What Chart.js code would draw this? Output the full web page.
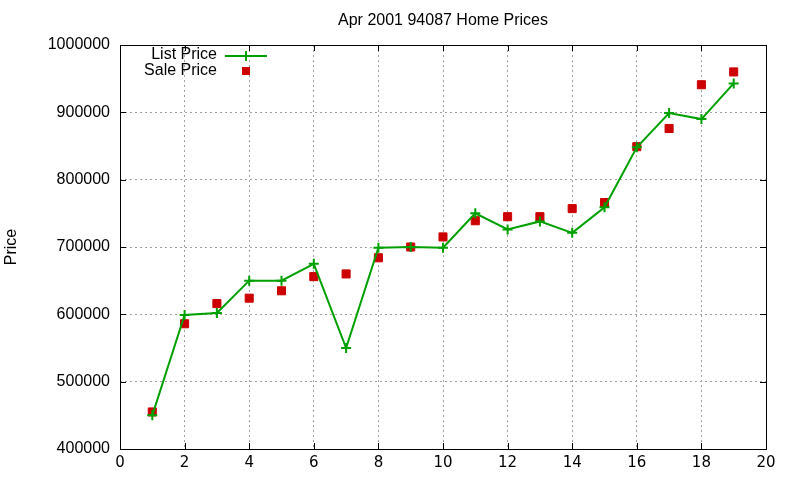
<!DOCTYPE html>
<html lang="en">
  <head>
    <meta charset="utf-8">
    <title>Apr 2001 94087 Home Prices</title>
    <style>
      html, body {
        margin: 0;
        padding: 0;
        background: #fff;
      }
      .chart-box {
        width: 800px;
        height: 480px;
      }
    </style>
    <script src="https://cdn.jsdelivr.net/npm/chart.js@4.4.4/dist/chart.umd.min.js"></script>
  </head>
  <body>
    <div class="chart-box">
      <canvas id="price-plot"></canvas>
    </div>
    <script>
      const listing_index = [1, 2, 3, 4, 5, 6, 7, 8, 9, 10, 11, 12, 13, 14, 15, 16, 17, 18, 19];
      const list_price = [450000, 599000, 602000, 650000, 650000, 675000, 550000, 699000, 700000, 699000,
                          750000, 726000, 738000, 721000, 759000, 848000, 899000, 890000, 943000];
      const sale_price = [455000, 586000, 616000, 624000, 635000, 656000, 660000, 684000, 700000, 715000,
                          739000, 745000, 745000, 757000, 766000, 849000, 876000, 941000, 960000];
      const x_ticks = [0, 2, 4, 6, 8, 10, 12, 14, 16, 18, 20];
      const y_ticks = [400000, 500000, 600000, 700000, 800000, 900000, 1000000];

      const green = 'rgb(0, 160, 0)';
      const red = 'rgb(204, 0, 0)';
      const font_name = '"Liberation Sans", Arial, sans-serif';

      // gnuplot style frame with inward ticks on all four sides
      const framePlugin = {
        id: 'frame',
        afterDraw(chart) {
          const ctx = chart.ctx;
          const area = chart.chartArea;
          const xs = chart.scales.x;
          const ys = chart.scales.y;
          ctx.save();
          ctx.strokeStyle = '#000';
          ctx.lineWidth = 1;
          ctx.beginPath();
          x_ticks.forEach(v => {
            const px = Math.round(xs.getPixelForValue(v)) + 0.5;
            ctx.moveTo(px, area.bottom);
            ctx.lineTo(px, area.bottom - 6);
            ctx.moveTo(px, area.top);
            ctx.lineTo(px, area.top + 6);
          });
          y_ticks.forEach(v => {
            const py = Math.round(ys.getPixelForValue(v)) + 0.5;
            ctx.moveTo(area.left, py);
            ctx.lineTo(area.left + 6, py);
            ctx.moveTo(area.right, py);
            ctx.lineTo(area.right - 6, py);
          });
          ctx.stroke();
          ctx.strokeRect(Math.round(area.left) + 0.5, Math.round(area.top) + 0.5,
                         Math.round(area.right - area.left), Math.round(area.bottom - area.top));
          ctx.restore();
        }
      };

      // key in the top left corner: right aligned text, then the sample
      const keyPlugin = {
        id: 'key',
        afterDraw(chart) {
          const ctx = chart.ctx;
          ctx.save();
          ctx.font = '16px ' + font_name;
          ctx.fillStyle = '#000';
          ctx.textAlign = 'right';
          ctx.textBaseline = 'middle';
          ctx.fillText('List Price', 217, 55);
          ctx.fillText('Sale Price', 217, 71);
          ctx.strokeStyle = green;
          ctx.lineWidth = 2;
          ctx.beginPath();
          ctx.moveTo(225, 56);
          ctx.lineTo(267, 56);
          ctx.moveTo(246, 51);
          ctx.lineTo(246, 61);
          ctx.stroke();
          ctx.fillStyle = red;
          ctx.fillRect(242, 67, 8, 8);
          ctx.restore();
        }
      };

      document.addEventListener('DOMContentLoaded', function() {
        const ctx = document.getElementById('price-plot');
        new Chart(ctx, {
          type: 'line',
          data: {
            datasets: [
              {
                label: 'List Price',
                data: listing_index.map((x, i) => ({x: x, y: list_price[i]})),
                borderColor: green,
                backgroundColor: green,
                borderWidth: 2,
                pointStyle: 'cross',
                pointRadius: 5,
                pointBorderWidth: 2,
                pointBorderColor: green,
                tension: 0,
                order: 1
              },
              {
                label: 'Sale Price',
                data: listing_index.map((x, i) => ({x: x, y: sale_price[i]})),
                showLine: false,
                pointStyle: 'rect',
                pointRadius: 5.7,
                pointBackgroundColor: red,
                pointBorderColor: red,
                pointBorderWidth: 1,
                order: 2
              }
            ]
          },
          options: {
            responsive: true,
            maintainAspectRatio: false,
            animation: false,
            layout: {
              padding: {left: 0, right: 34, top: 0, bottom: 0}
            },
            plugins: {
              legend: {display: false},
              tooltip: {enabled: false},
              title: {
                display: true,
                fullSize: false,
                text: 'Apr 2001 94087 Home Prices',
                color: '#000',
                font: {family: font_name, size: 16, weight: 'normal'},
                padding: {top: 11, bottom: 14.8}
              }
            },
            scales: {
              x: {
                type: 'linear',
                min: 0,
                max: 20,
                afterBuildTicks: scale => {
                  scale.ticks = x_ticks.map(v => ({value: v}));
                },
                afterFit: scale => {
                  scale.height = 31;
                },
                grid: {
                  color: '#a0a0a0',
                  lineWidth: 1,
                  drawTicks: false
                },
                border: {display: false, dash: [2, 3]},
                ticks: {
                  color: '#000',
                  padding: 5,
                  maxRotation: 0,
                  font: {family: '"DejaVu Sans", sans-serif', size: 15}
                }
              },
              y: {
                type: 'linear',
                min: 400000,
                max: 1000000,
                afterBuildTicks: scale => {
                  scale.ticks = y_ticks.map(v => ({value: v}));
                },
                afterFit: scale => {
                  scale.width = 120;
                },
                grid: {
                  color: '#a0a0a0',
                  lineWidth: 1,
                  drawTicks: false
                },
                border: {display: false, dash: [2, 3]},
                ticks: {
                  color: '#000',
                  padding: 10,
                  font: {family: font_name, size: 16},
                  callback: value => String(value)
                },
                title: {
                  display: true,
                  text: 'Price',
                  color: '#000',
                  font: {family: font_name, size: 16},
                  padding: {top: 2, bottom: 0}
                }
              }
            }
          },
          plugins: [framePlugin, keyPlugin]
        });
      });
    </script>
  </body>
</html>
